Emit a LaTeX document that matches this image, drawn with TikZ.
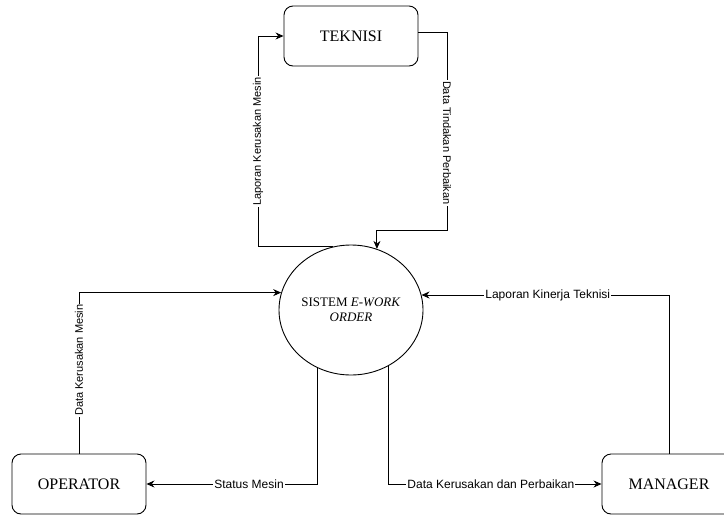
\documentclass[tikz,border=0pt]{standalone}
\usepackage{fontspec}
\setmainfont{Liberation Serif}
\newfontfamily\lblfont{Liberation Sans}
\usetikzlibrary{arrows.meta,shapes.geometric}

\begin{document}
\begin{tikzpicture}[x=1pt,y=-1pt,>={Stealth[length=8pt,width=7pt]},line width=.9pt,
  entity/.style={draw,rounded corners=9pt,minimum width=134pt,minimum height=60pt,font=\fontsize{16}{19}\selectfont},
  flow/.style={font=\lblfont\fontsize{12}{14}\selectfont,fill=white,inner sep=1pt},
  vflow/.style={flow,font=\lblfont\fontsize{11}{13}\selectfont}]
  \useasboundingbox (0,0) rectangle (724,515);
  \clip (0,0) rectangle (724,515);
  \node[entity] (tek) at (351,36) {TEKNISI};
  \node[entity] (opr) at (79,484) {OPERATOR};
  \node[entity] (mgr) at (669,484) {MANAGER};
  \node[draw,ellipse,minimum width=144pt,minimum height=130pt,inner sep=0pt,align=center,font=\fontsize{13}{15}\selectfont] (sys) at (351,310) {SISTEM \textit{E-WORK}\\\textit{ORDER}};
  \coordinate (tl) at (258,36);
  \coordinate (tr) at (447,230);
  \draw[->] (sys.106) -| (tl) node[vflow,pos=.75,rotate=90] {Laporan Kerusakan Mesin} -- (tek.west);
  \draw[->] ([yshift=4pt]tek.east) -| (tr) node[vflow,pos=.78,rotate=-90] {Data Tindakan Perbaikan} -| (sys.67);
  \draw[->] (opr.north) |- (sys.166) node[vflow,pos=.29,rotate=90] {Data Kerusakan Mesin};
  \draw[->] (sys.240) |- (opr.east) node[flow,pos=.70] {Status Mesin};
  \draw[->] (sys.304) |- (mgr.west) node[flow,pos=.74] {Data Kerusakan dan Perbaikan};
  \draw[->] (mgr.north) |- (sys.12) node[flow,pos=.745] {Laporan Kinerja Teknisi};
\end{tikzpicture}
\end{document}
